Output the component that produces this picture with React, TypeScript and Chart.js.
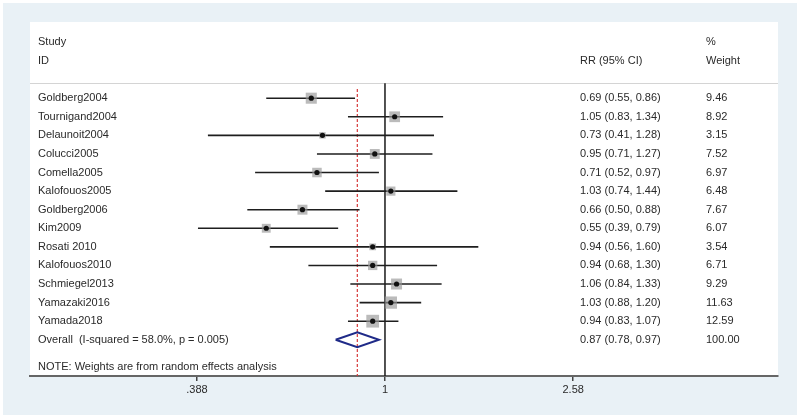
import React, { useEffect, useRef } from "react";
import { Chart, registerables } from "chart.js";
Chart.register(...registerables);

const studies = [
  "Goldberg2004",
  "Tournigand2004",
  "Delaunoit2004",
  "Colucci2005",
  "Comella2005",
  "Kalofouos2005",
  "Goldberg2006",
  "Kim2009",
  "Rosati 2010",
  "Kalofouos2010",
  "Schmiegel2013",
  "Yamazaki2016",
  "Yamada2018",
];
const rr = [0.69, 1.05, 0.73, 0.95, 0.71, 1.03, 0.66, 0.55, 0.94, 0.94, 1.06, 1.03, 0.94];
const lower = [0.55, 0.83, 0.41, 0.71, 0.52, 0.74, 0.5, 0.39, 0.56, 0.68, 0.84, 0.88, 0.83];
const upper = [0.86, 1.34, 1.28, 1.27, 0.97, 1.44, 0.88, 0.79, 1.6, 1.3, 1.33, 1.2, 1.07];
const weights = [9.46, 8.92, 3.15, 7.52, 6.97, 6.48, 7.67, 6.07, 3.54, 6.71, 9.29, 11.63, 12.59];

const overallLabel = "Overall  (I-squared = 58.0%, p = 0.005)";
const overallRR = 0.87;
const overallLower = 0.78;
const overallUpper = 0.97;
const overallWeight = 100.0;

const noteText = "NOTE: Weights are from random effects analysis";
const tickValues = [0.388, 1, 2.58];
const tickLabels = [".388", "1", "2.58"];

const X_MIN = 0.1674;
const X_MAX = 7.235;

export default function App() {
  const ref = useRef<HTMLCanvasElement>(null);

  useEffect(() => {
    document.body.style.margin = "0";
    const canvas = ref.current;
    if (!canvas) return;

    const n = studies.length;
    const overallRow = n;
    const noteRow = n + 1.45;
    const headerTopRow = -3;
    const headerBottomRow = -2;
    const headerLineRow = -0.8;
    const yMin = -4.1;
    const yMax = 14.95;
    const FONT = "11px 'Liberation Sans', Arial, sans-serif";
    const TEXT = "#2a2a2a";

    const ciDatasets = studies.map((_, i) => ({
      type: "scatter" as const,
      data: [
        { x: lower[i], y: i },
        { x: upper[i], y: i },
      ],
      showLine: true,
      borderColor: "#1e1e1e",
      borderWidth: 1.6,
      pointRadius: 0,
      order: 3,
    }));

    const bgPlugin = {
      id: "bgPlugin",
      beforeDraw(chart: any) {
        const { ctx, chartArea, scales } = chart;
        ctx.save();
        ctx.fillStyle = "#ffffff";
        ctx.fillRect(0, 0, chart.width, chart.height);
        ctx.fillStyle = "#e9f1f6";
        ctx.fillRect(3, 3, chart.width - 6, chart.height - 7);
        ctx.fillStyle = "#ffffff";
        ctx.fillRect(chartArea.left, chartArea.top, chartArea.right - chartArea.left, chartArea.bottom - chartArea.top);
        const yl = scales.y.getPixelForValue(headerLineRow);
        ctx.strokeStyle = "#d4d4d4";
        ctx.lineWidth = 1;
        ctx.beginPath();
        ctx.moveTo(chartArea.left, Math.round(yl) + 0.5);
        ctx.lineTo(chartArea.right, Math.round(yl) + 0.5);
        ctx.stroke();
        ctx.restore();
      },
    };

    const textPlugin = {
      id: "textPlugin",
      afterDraw(chart: any) {
        const { ctx, chartArea, scales } = chart;
        const w = chartArea.right - chartArea.left;
        const xStudy = chartArea.left + 8;
        const xRR = chartArea.left + w * 0.7353;
        const xW = chartArea.left + w * 0.9037;
        const y = (r: number) => scales.y.getPixelForValue(r);
        ctx.save();
        ctx.font = FONT;
        ctx.fillStyle = TEXT;
        ctx.textBaseline = "middle";
        ctx.textAlign = "left";
        ctx.fillText("Study", xStudy, y(headerTopRow));
        ctx.fillText("ID", xStudy, y(headerBottomRow));
        ctx.fillText("RR (95% CI)", xRR, y(headerBottomRow));
        ctx.fillText("%", xW, y(headerTopRow));
        ctx.fillText("Weight", xW, y(headerBottomRow));
        studies.forEach((s, i) => {
          ctx.fillText(s, xStudy, y(i));
          ctx.fillText(
            `${rr[i].toFixed(2)} (${lower[i].toFixed(2)}, ${upper[i].toFixed(2)})`,
            xRR,
            y(i)
          );
          ctx.fillText(weights[i].toFixed(2), xW, y(i));
        });
        ctx.fillText(overallLabel, xStudy, y(overallRow));
        ctx.fillText(
          `${overallRR.toFixed(2)} (${overallLower.toFixed(2)}, ${overallUpper.toFixed(2)})`,
          xRR,
          y(overallRow)
        );
        ctx.fillText(overallWeight.toFixed(2), xW, y(overallRow));
        ctx.fillText(noteText, xStudy, y(noteRow));
        ctx.restore();
      },
    };

    const chart = new Chart(canvas, {
      type: "scatter",
      data: {
        datasets: [
          {
            type: "scatter",
            data: [
              { x: 1, y: headerLineRow },
              { x: 1, y: yMax },
            ],
            showLine: true,
            borderColor: "#1a1a1a",
            borderWidth: 1.5,
            pointRadius: 0,
            order: 5,
          } as any,
          {
            type: "scatter",
            data: [
              { x: overallRR, y: headerLineRow + 0.3 },
              { x: overallRR, y: yMax },
            ],
            showLine: true,
            borderColor: "#d63a3a",
            borderWidth: 1.2,
            borderDash: [3, 2],
            pointRadius: 0,
            order: 4,
          } as any,
          ...ciDatasets,
          {
            type: "scatter",
            data: studies.map((_, i) => ({ x: rr[i], y: i })),
            pointStyle: "rect",
            pointRadius: (c: any) => (3.6 * Math.sqrt(weights[c.dataIndex] || 0)) / Math.SQRT2,
            backgroundColor: "rgba(150,150,150,0.65)",
            borderWidth: 0,
            order: 2,
          } as any,
          {
            type: "scatter",
            data: studies.map((_, i) => ({ x: rr[i], y: i })),
            pointStyle: "circle",
            pointRadius: 2.6,
            backgroundColor: "#111111",
            borderWidth: 0,
            order: 1,
          } as any,
          {
            type: "scatter",
            data: [
              { x: overallLower, y: overallRow },
              { x: overallRR, y: overallRow - 0.4 },
              { x: overallUpper, y: overallRow },
              { x: overallRR, y: overallRow + 0.4 },
              { x: overallLower, y: overallRow },
            ],
            showLine: true,
            borderColor: "#1f2a88",
            borderWidth: 2,
            pointRadius: 0,
            order: 0,
          } as any,
        ],
      },
      options: {
        animation: false,
        responsive: true,
        maintainAspectRatio: false,
        layout: { padding: { left: 30, right: 22, top: 22, bottom: 0 } },
        plugins: { legend: { display: false }, tooltip: { enabled: false } },
        events: [],
        scales: {
          x: {
            type: "logarithmic",
            min: X_MIN,
            max: X_MAX,
            afterBuildTicks: (scale: any) => {
              scale.ticks = tickValues.map((v) => ({ value: v }));
            },
            afterFit: (scale: any) => {
              scale.height = 43;
            },
            ticks: {
              autoSkip: false,
              maxRotation: 0,
              padding: 2,
              color: TEXT,
              font: { family: "'Liberation Sans', Arial, sans-serif", size: 11 },
              callback: (v: any) => {
                const idx = tickValues.findIndex((t) => Math.abs(t - Number(v)) < 1e-9);
                return idx >= 0 ? tickLabels[idx] : "";
              },
            },
            grid: {
              drawOnChartArea: false,
              drawTicks: true,
              tickLength: 5,
              color: "#444444",
              lineWidth: 1.5,
            },
            border: { display: true, color: "#666666", width: 2 },
          },
          y: {
            type: "linear",
            display: false,
            reverse: true,
            min: yMin,
            max: yMax,
          },
        },
      } as any,
      plugins: [bgPlugin, textPlugin],
    });

    return () => chart.destroy();
  }, []);

  return (
    <div style={{ width: 800, height: 419, position: "relative" }}>
      <canvas ref={ref} />
    </div>
  );
}
